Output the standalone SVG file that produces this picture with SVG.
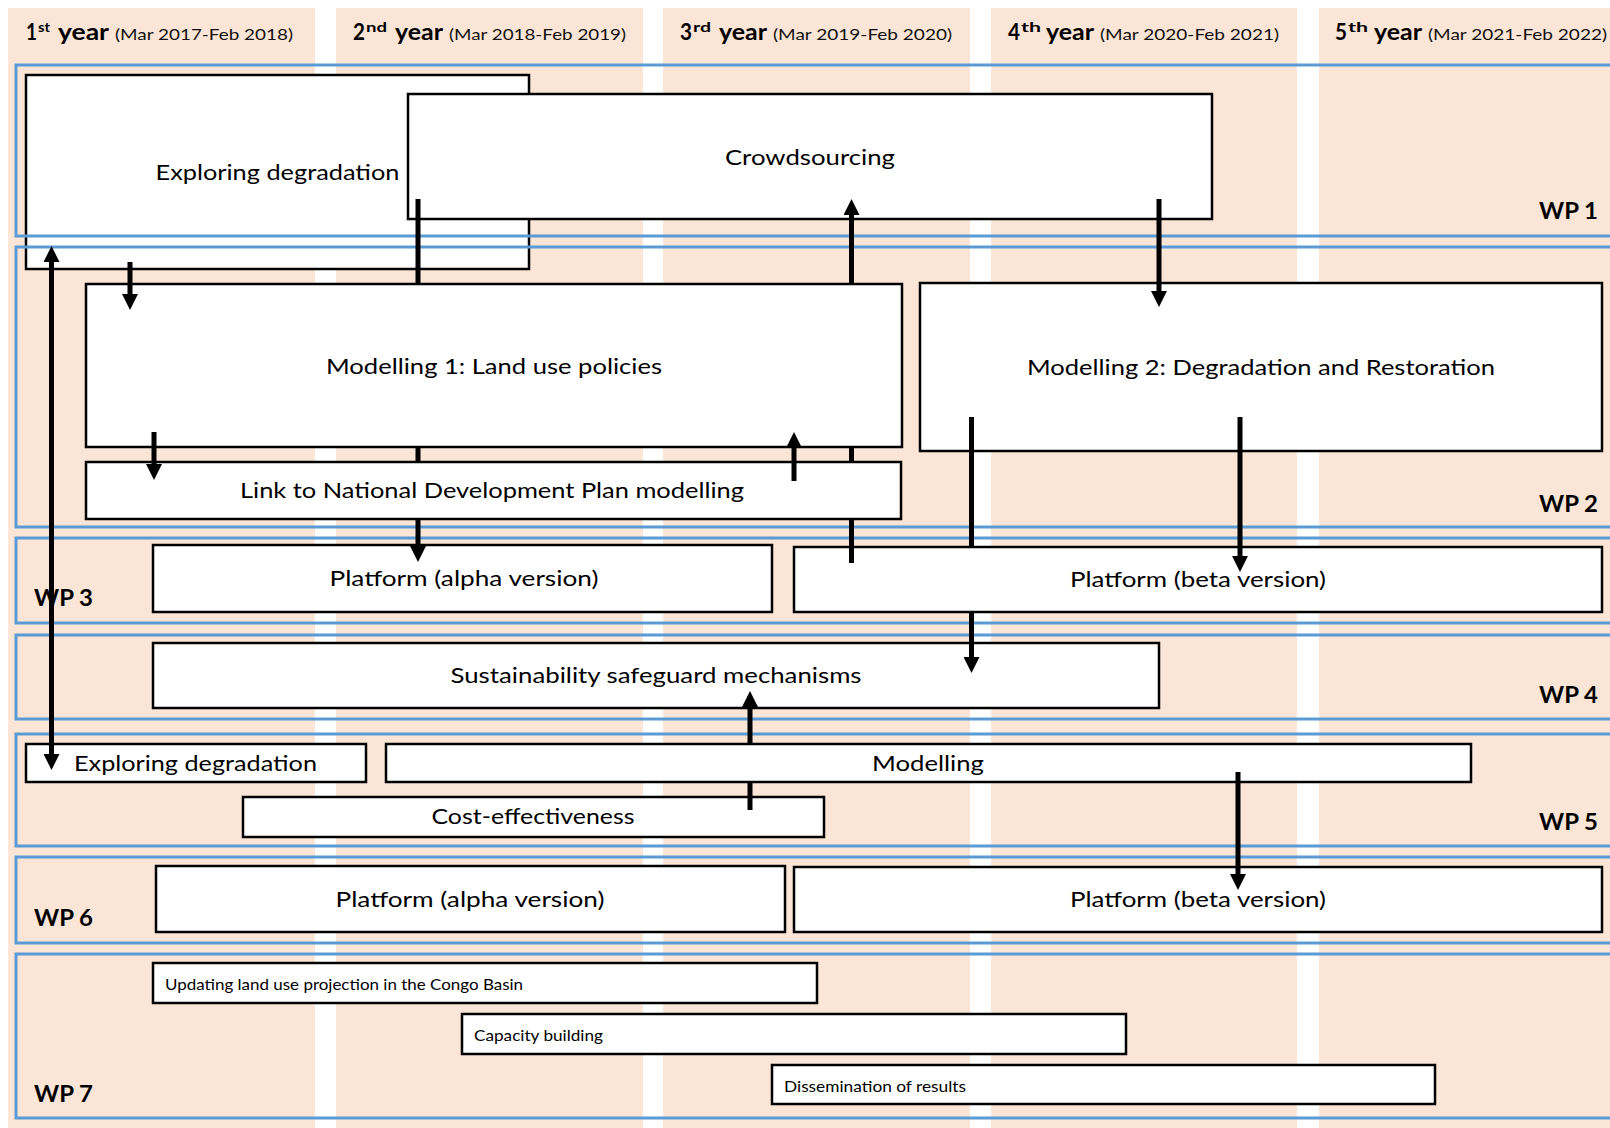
<svg xmlns="http://www.w3.org/2000/svg" width="1610" height="1128" viewBox="0 0 1610 1128">
<style>
.col{fill:#FBE5D6}
.box{fill:#fff;stroke:#000;stroke-width:2.5}
.t{font-family:Lato,"Liberation Sans",sans-serif;font-size:22px;text-anchor:middle;fill:#000}
.s{font-family:Lato,"Liberation Sans",sans-serif;font-size:16px;text-anchor:start;fill:#000}
.hb{font-family:Lato,"Liberation Sans",sans-serif;font-size:22px;font-weight:bold;fill:#000}
.sup{font-family:Lato,"Liberation Sans",sans-serif;font-size:14px;font-weight:bold;fill:#000}
.hp{font-family:Lato,"Liberation Sans",sans-serif;font-size:16px;fill:#111}
.wp{fill:none;stroke:#5B9BD5;stroke-width:3}
.wl{font-family:Lato,"Liberation Sans",sans-serif;font-size:22px;font-weight:bold;fill:#000}
.c{fill:none;stroke:#000;stroke-width:5}
</style>
<defs>
<marker id="ah" markerUnits="userSpaceOnUse" markerWidth="16" markerHeight="16" refX="2" refY="8" orient="auto-start-reverse" viewBox="0 0 16 16"><path d="M0,0 L16,8 L0,16 z" fill="#000"/></marker>
</defs>
<rect width="1610" height="1128" fill="#fff"/>
<g id="columns">
<rect class="col" x="8" y="8" width="307" height="1120"/>
<rect class="col" x="336" y="8" width="307" height="1120"/>
<rect class="col" x="663" y="8" width="307" height="1120"/>
<rect class="col" x="991" y="8" width="306" height="1120"/>
<rect class="col" x="1319" y="8" width="291" height="1120"/>
</g>
<g id="headers">
<text class="hb" x="26" y="39.5" textLength="11" lengthAdjust="spacingAndGlyphs">1</text><text class="sup" x="38" y="31.5" textLength="12" lengthAdjust="spacingAndGlyphs">st</text><text class="hb" x="58" y="39.5" textLength="51" lengthAdjust="spacingAndGlyphs">year</text>
<text class="hp" x="115" y="39.5" textLength="178" lengthAdjust="spacingAndGlyphs">(Mar 2017-Feb 2018)</text>
<text class="hb" x="353" y="39.5" textLength="12" lengthAdjust="spacingAndGlyphs">2</text><text class="sup" x="366" y="31.5" textLength="21" lengthAdjust="spacingAndGlyphs">nd</text><text class="hb" x="395" y="39.5" textLength="48" lengthAdjust="spacingAndGlyphs">year</text>
<text class="hp" x="449" y="39.5" textLength="177" lengthAdjust="spacingAndGlyphs">(Mar 2018-Feb 2019)</text>
<text class="hb" x="680" y="39.5" textLength="12" lengthAdjust="spacingAndGlyphs">3</text><text class="sup" x="693" y="31.5" textLength="18" lengthAdjust="spacingAndGlyphs">rd</text><text class="hb" x="719" y="39.5" textLength="48" lengthAdjust="spacingAndGlyphs">year</text>
<text class="hp" x="773" y="39.5" textLength="179" lengthAdjust="spacingAndGlyphs">(Mar 2019-Feb 2020)</text>
<text class="hb" x="1008" y="39.5" textLength="12" lengthAdjust="spacingAndGlyphs">4</text><text class="sup" x="1021" y="31.5" textLength="20" lengthAdjust="spacingAndGlyphs">th</text><text class="hb" x="1046" y="39.5" textLength="48" lengthAdjust="spacingAndGlyphs">year</text>
<text class="hp" x="1100" y="39.5" textLength="179" lengthAdjust="spacingAndGlyphs">(Mar 2020-Feb 2021)</text>
<text class="hb" x="1335" y="39.5" textLength="12" lengthAdjust="spacingAndGlyphs">5</text><text class="sup" x="1348" y="31.5" textLength="20" lengthAdjust="spacingAndGlyphs">th</text><text class="hb" x="1374" y="39.5" textLength="48" lengthAdjust="spacingAndGlyphs">year</text>
<text class="hp" x="1428" y="39.5" textLength="179" lengthAdjust="spacingAndGlyphs">(Mar 2021-Feb 2022)</text>
</g>
<g id="n-exploring1"><rect class="box" x="26" y="75" width="503" height="194"/><text class="t" x="277.5" y="180" textLength="244" lengthAdjust="spacingAndGlyphs">Exploring degradation</text></g>
<g id="n-crowdsourcing"><rect class="box" x="408" y="94" width="804" height="125"/><text class="t" x="810" y="165" textLength="170" lengthAdjust="spacingAndGlyphs">Crowdsourcing</text></g>
<g id="n-modelling1"><rect class="box" x="86" y="284" width="816" height="163"/><text class="t" x="494" y="374" textLength="336" lengthAdjust="spacingAndGlyphs">Modelling 1: Land use policies</text></g>
<g id="n-modelling2"><rect class="box" x="920" y="283" width="682" height="168"/><text class="t" x="1261" y="375" textLength="468" lengthAdjust="spacingAndGlyphs">Modelling 2: Degradation and Restoration</text></g>
<g id="n-link"><rect class="box" x="86" y="462" width="815" height="57"/><text class="t" x="492" y="498" textLength="504" lengthAdjust="spacingAndGlyphs">Link to National Development Plan modelling</text></g>
<g id="n-platform-alpha3"><rect class="box" x="153" y="545" width="619" height="67"/><text class="t" x="464" y="586" textLength="269" lengthAdjust="spacingAndGlyphs">Platform (alpha version)</text></g>
<g id="n-platform-beta3"><rect class="box" x="794" y="547" width="808" height="65"/><text class="t" x="1198" y="587" textLength="256" lengthAdjust="spacingAndGlyphs">Platform (beta version)</text></g>
<g id="n-sustainability"><rect class="box" x="153" y="643" width="1006" height="65"/><text class="t" x="656" y="683" textLength="411" lengthAdjust="spacingAndGlyphs">Sustainability safeguard mechanisms</text></g>
<g id="n-exploring5"><rect class="box" x="26" y="744" width="340" height="38"/><text class="t" x="195.5" y="770.5" textLength="243" lengthAdjust="spacingAndGlyphs">Exploring degradation</text></g>
<g id="n-modelling5"><rect class="box" x="386" y="744" width="1085" height="38"/><text class="t" x="928" y="770.5" textLength="112" lengthAdjust="spacingAndGlyphs">Modelling</text></g>
<g id="n-cost"><rect class="box" x="243" y="797" width="581" height="40"/><text class="t" x="533" y="824" textLength="203" lengthAdjust="spacingAndGlyphs">Cost-effectiveness</text></g>
<g id="n-platform-alpha6"><rect class="box" x="156" y="866" width="629" height="66"/><text class="t" x="470" y="907" textLength="269" lengthAdjust="spacingAndGlyphs">Platform (alpha version)</text></g>
<g id="n-platform-beta6"><rect class="box" x="794" y="867" width="808" height="65"/><text class="t" x="1198" y="907" textLength="256" lengthAdjust="spacingAndGlyphs">Platform (beta version)</text></g>
<g id="n-updating"><rect class="box" x="153" y="963" width="664" height="40"/><text class="s" x="165" y="990" textLength="358" lengthAdjust="spacingAndGlyphs">Updating land use projection in the Congo Basin</text></g>
<g id="n-capacity"><rect class="box" x="462" y="1014" width="664" height="40"/><text class="s" x="474" y="1041" textLength="129" lengthAdjust="spacingAndGlyphs">Capacity building</text></g>
<g id="n-dissemination"><rect class="box" x="772" y="1065" width="663" height="39"/><text class="s" x="784" y="1092" textLength="182" lengthAdjust="spacingAndGlyphs">Dissemination of results</text></g>
<g id="workpackages">
<rect class="wp" x="16" y="65" width="1610" height="171"/>
<rect class="wp" x="16" y="247" width="1610" height="280"/>
<rect class="wp" x="16" y="538" width="1610" height="85"/>
<rect class="wp" x="16" y="635" width="1610" height="84"/>
<rect class="wp" x="16" y="734" width="1610" height="112"/>
<rect class="wp" x="16" y="857" width="1610" height="86"/>
<rect class="wp" x="16" y="954" width="1610" height="164"/>
<text class="wl" x="1539" y="219" textLength="59" lengthAdjust="spacingAndGlyphs">WP 1</text>
<text class="wl" x="1539" y="512" textLength="59" lengthAdjust="spacingAndGlyphs">WP 2</text>
<text class="wl" x="34" y="606" textLength="59" lengthAdjust="spacingAndGlyphs">WP 3</text>
<text class="wl" x="1539" y="703" textLength="59" lengthAdjust="spacingAndGlyphs">WP 4</text>
<text class="wl" x="1539" y="830" textLength="59" lengthAdjust="spacingAndGlyphs">WP 5</text>
<text class="wl" x="34" y="926" textLength="59" lengthAdjust="spacingAndGlyphs">WP 6</text>
<text class="wl" x="34" y="1102" textLength="59" lengthAdjust="spacingAndGlyphs">WP 7</text>
</g>
<g id="connectors">
<path class="c" d="M51.5 260 V756" marker-start="url(#ah)" marker-end="url(#ah)"/>
<path class="c" d="M130 262 V296" marker-end="url(#ah)"/>
<path class="c" d="M418 199 V284 M418 447 V462 M418 519 V548" marker-end="url(#ah)"/>
<path class="c" d="M851.5 563 V519 M851.5 462 V447 M851.5 284 V213" marker-end="url(#ah)"/>
<path class="c" d="M1159 199 V293" marker-end="url(#ah)"/>
<path class="c" d="M154 432 V466" marker-end="url(#ah)"/>
<path class="c" d="M794 481 V446" marker-end="url(#ah)"/>
<path class="c" d="M971.5 417 V547 M971.5 612 V659" marker-end="url(#ah)"/>
<path class="c" d="M1240 417 V558" marker-end="url(#ah)"/>
<path class="c" d="M750 810 V782 M750 744 V705" marker-end="url(#ah)"/>
<path class="c" d="M1238 772 V876" marker-end="url(#ah)"/>
</g>
</svg>
